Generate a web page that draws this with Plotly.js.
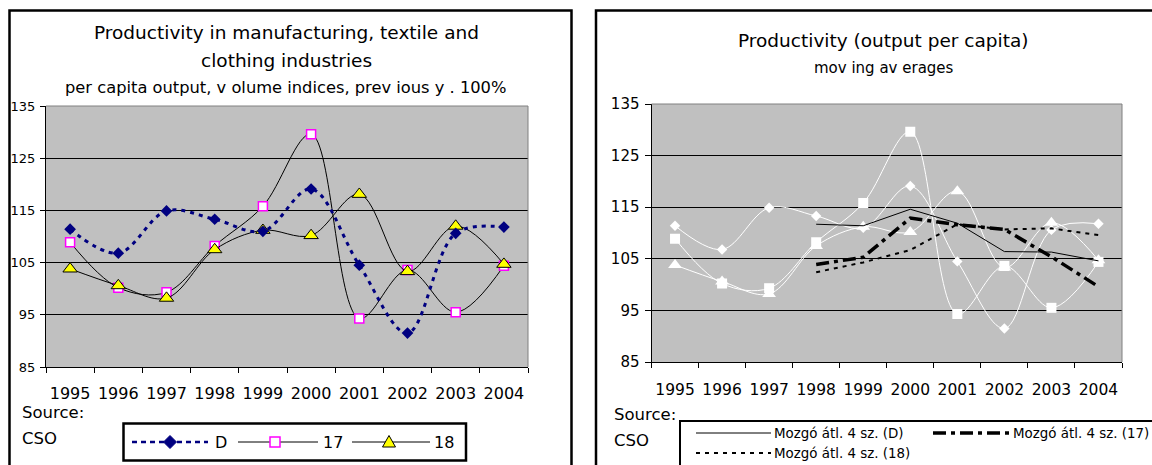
<!DOCTYPE html>
<html>
<head>
<meta charset="utf-8">
<script src="https://cdn.plot.ly/plotly-3.0.1.min.js"></script>
<style>
html,body{margin:0;padding:0;background:#fff;}
#chart{width:1152px;height:465px;}
</style>
</head>
<body>
<div id="chart"></div>
<script>
// ---- data ----
const years = ['1995','1996','1997','1998','1999','2000','2001','2002','2003','2004'];
const seriesD  = [111.4, 106.8, 114.9, 113.3, 111.0, 119.1, 104.5, 91.5, 110.6, 111.8];
const series17 = [108.9, 100.2, 99.3, 108.2, 115.8, 129.6, 94.3, 103.6, 95.5, 104.4];
const series18 = [103.8, 100.6, 98.2, 107.5, 111.2, 110.2, 118.1, 103.3, 112.0, 104.7];
const movAvgD  = [null, null, null, 111.7, 111.4, 114.6, 111.9, 106.4, 106.3, 104.6];
const movAvg17 = [null, null, null, 103.9, 105.3, 112.9, 111.6, 110.7, 105.4, 99.6];
const movAvg18 = [null, null, null, 102.4, 104.3, 106.7, 111.7, 110.7, 110.9, 109.6];
const yTicks = [85, 95, 105, 115, 125, 135];
const legendLeft = ['D', '17', '18'];
const legendRight = ['Mozgó átl. 4 sz. (D)', 'Mozgó átl. 4 sz. (17)', 'Mozgó átl. 4 sz. (18)'];

// ---- helpers ----
const W = 1152, H = 465;
const FONT = 'DejaVu Sans, Liberation Sans, Arial, sans-serif';
const px = x => x / W;
const py = y => 1 - y / H;

function yAxis(domTop, domBot, tsize, tlen, stand, anchor) {
  return {
    domain: [py(domBot), py(domTop)], range: [85, 135], autorange: false, anchor: anchor,
    tickmode: 'array', tickvals: yTicks, ticktext: yTicks.map(String),
    ticks: 'outside', ticklen: tlen, tickcolor: '#000', tickwidth: 1,
    showline: true, linecolor: '#000', linewidth: 1,
    showgrid: true, gridcolor: '#000', gridwidth: 1, zeroline: false,
    tickfont: {family: FONT, size: tsize, color: '#000'},
    ticklabelstandoff: stand, fixedrange: true
  };
}
function xAxis(l, r, tsize, stand, anchor) {
  return {
    domain: [px(l), px(r)], anchor: anchor, type: 'category',
    categoryorder: 'array', categoryarray: years,
    range: [-0.5, years.length - 0.5], autorange: false, tickangle: 0,
    tickson: 'boundaries', ticks: 'outside', ticklen: 5, tickcolor: '#000', tickwidth: 1,
    showline: true, linecolor: '#000', linewidth: 1, showgrid: false, zeroline: false,
    tickfont: {family: FONT, size: tsize, color: '#000'},
    ticklabelstandoff: stand, fixedrange: true
  };
}

// ---- traces ----
const traces = [
  // left chart
  {x: years, y: series17, xaxis: 'x', yaxis: 'y', mode: 'lines+markers',
   line: {color: '#000', width: 1, shape: 'spline'},
   marker: {symbol: 'square', size: 9, color: '#fff', line: {color: '#FF00FF', width: 1.5}}},
  {x: years, y: series18, xaxis: 'x', yaxis: 'y', mode: 'lines+markers',
   line: {color: '#000', width: 1, shape: 'spline'},
   marker: {symbol: 'triangle-up', size: 12.5, color: '#FFFF00', line: {color: '#000', width: 1}}},
  {x: years, y: seriesD, xaxis: 'x', yaxis: 'y', mode: 'lines+markers',
   line: {color: '#000080', width: 3, shape: 'spline', dash: '4px,5px'},
   marker: {symbol: 'diamond', size: 9, color: '#000080'}},
  // right chart
  {x: years, y: seriesD, xaxis: 'x2', yaxis: 'y2', mode: 'lines+markers',
   line: {color: '#fff', width: 1, shape: 'spline'},
   marker: {symbol: 'diamond', size: 8, color: '#fff'}},
  {x: years, y: series17, xaxis: 'x2', yaxis: 'y2', mode: 'lines+markers',
   line: {color: '#fff', width: 1, shape: 'spline'},
   marker: {symbol: 'square', size: 10, color: '#fff'}},
  {x: years, y: series18, xaxis: 'x2', yaxis: 'y2', mode: 'lines+markers',
   line: {color: '#fff', width: 1, shape: 'spline'},
   marker: {symbol: 'triangle-up', size: 12, color: '#fff'}},
  {x: years, y: movAvgD, xaxis: 'x2', yaxis: 'y2', mode: 'lines',
   line: {color: '#000', width: 1}},
  {x: years, y: movAvg17, xaxis: 'x2', yaxis: 'y2', mode: 'lines',
   line: {color: '#000', width: 3.5, dash: '13px,5px,4px,5px'}},
  {x: years, y: movAvg18, xaxis: 'x2', yaxis: 'y2', mode: 'lines',
   line: {color: '#000', width: 2, dash: '4px,5px'}}
];

// ---- decorations (frames, legends) ----
const shapes = [];
const ann = [];
function line(x0, y0, x1, y1, color, width, dash) {
  shapes.push({type: 'line', xref: 'paper', yref: 'paper', x0: px(x0), y0: py(y0), x1: px(x1), y1: py(y1),
    line: {color: color, width: width, dash: dash || 'solid'}});
}
function rect(x0, y0, x1, y1, color, width) {
  shapes.push({type: 'rect', xref: 'paper', yref: 'paper', x0: px(x0), y0: py(y0), x1: px(x1), y1: py(y1),
    line: {color: color, width: width}, fillcolor: 'rgba(0,0,0,0)'});
}
function poly(pts, fill, color, width) {
  const d = 'M' + pts.map(p => px(p[0]) + ',' + py(p[1])).join(' L') + ' Z';
  shapes.push({type: 'path', xref: 'paper', yref: 'paper', path: d, fillcolor: fill,
    line: {color: color, width: width}});
}
function text(t, x, y, size, anchor) {
  ann.push({text: t, xref: 'paper', yref: 'paper', x: px(x), y: py(y), showarrow: false,
    xanchor: anchor || 'center', yanchor: 'middle', font: {family: FONT, size: size, color: '#000'}});
}

// plot-area gray borders (top & right)
['', '2'].forEach(s => {
  shapes.push({type: 'line', xref: 'x' + s + ' domain', yref: 'y' + s + ' domain', x0: 0, x1: 1, y0: 1, y1: 1, line: {color: '#808080', width: 1}});
  shapes.push({type: 'line', xref: 'x' + s + ' domain', yref: 'y' + s + ' domain', x0: 1, x1: 1, y0: 0, y1: 1, line: {color: '#808080', width: 1}});
});

// panel frames
rect(9.5, 10.5, 571.5, 480, '#000', 2.5);
rect(596, 10.5, 1170, 480, '#000', 2.5);

// titles
text('Productivity in manufacturing, textile and', 286.5, 32, 18.5);
text('clothing industries', 286.5, 60, 18.5);
text('per capita output, v olume indices, prev ious y . 100%', 285, 88, 16.3);
text('Productivity (output per capita)', 883, 40, 18.5);
text('mov ing av erages', 884, 68, 15);

// source notes
text('Source:', 20, 412, 16.5, 'left');
text('CSO', 20, 438, 16.5, 'left');
text('Source:', 612, 414, 16.5, 'left');
text('CSO', 612, 440, 16.5, 'left');

// left legend
rect(123.5, 423.5, 466, 460.5, '#000', 2.5);
const ly = 442;
line(132, ly, 208, ly, '#000080', 2.5, '5px,4px');
poly([[170, ly - 6.5], [176.5, ly], [170, ly + 6.5], [163.5, ly]], '#000080', '#000080', 1);
text(legendLeft[0], 213, ly, 16, 'left');
line(238, ly, 318, ly, '#000', 1);
poly([[270, ly - 5], [280, ly - 5], [280, ly + 5], [270, ly + 5]], '#fff', '#FF00FF', 1.5);
text(legendLeft[1], 321, ly, 16, 'left');
line(352, ly, 430, ly, '#000', 1);
poly([[389, ly - 6.5], [395.5, ly + 5], [382.5, ly + 5]], '#FFFF00', '#000', 1);
text(legendLeft[2], 432, ly, 16, 'left');

// right legend
rect(680, 421, 1170, 480, '#000', 2);
const r1 = 433, r2 = 453;
line(696, r1, 771, r1, '#000', 1);
text(legendRight[0], 772, r1, 13.4, 'left');
line(933, r1, 1010, r1, '#000', 3.5, '13px,5px,4px,5px');
text(legendRight[1], 1011, r1, 13.4, 'left');
line(696, r2, 771, r2, '#000', 2, '4px,5px');
text(legendRight[2], 772, r2, 13.4, 'left');

const layout = {
  width: W, height: H, margin: {l: 0, r: 0, t: 0, b: 0, pad: 0},
  paper_bgcolor: '#fff', plot_bgcolor: '#C0C0C0', showlegend: false,
  xaxis: xAxis(46, 528, 16, 12, 'y'),
  yaxis: yAxis(106, 367, 13, 5, 2, 'x'),
  xaxis2: xAxis(651.5, 1122, 15.5, 13, 'y2'),
  yaxis2: yAxis(104, 362, 15, 6, 2, 'x2'),
  shapes: shapes, annotations: ann
};

Plotly.newPlot('chart', traces, layout, {displayModeBar: false, staticPlot: true});
</script>
</body>
</html>
